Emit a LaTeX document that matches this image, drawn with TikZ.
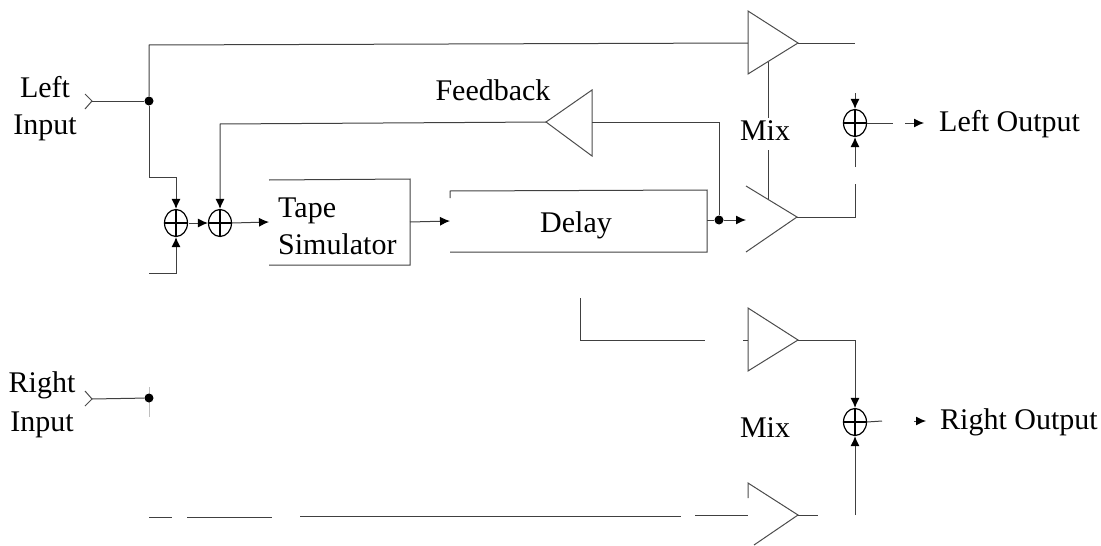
\documentclass[tikz,border=0pt]{standalone}
\usepackage{fontspec}
\setmainfont{Liberation Serif}
\usetikzlibrary{shapes.geometric,arrows.meta}
\tikzset{
  x=1pt,y=-1pt,
  wire/.style={line width=1pt,draw=black!75},
  faint/.style={line width=1pt,draw=black!25},
  amp/.style={line width=1pt,draw=black!70},
  tip/.style={-{Latex[length=10pt,width=9pt,black]}},
  sumnode/.style={ellipse,draw,line width=1.2pt,minimum width=23pt,minimum height=27pt,inner sep=0pt,
    path picture={\draw[line width=1.2pt] (path picture bounding box.north)--(path picture bounding box.south)
      (path picture bounding box.west)--(path picture bounding box.east);}},
  dotnode/.style={circle,fill=black,minimum size=9pt,inner sep=0pt},
  lbl/.style={font=\fontsize{30}{38}\selectfont,inner sep=0pt,anchor=base},
  lbll/.style={lbl,anchor=base west},
}
\begin{document}
\begin{tikzpicture}
\useasboundingbox (0,0) rectangle (1101,546);
% labels
\node[lbl] (tL1) at (45,97) {Left};
\node[lbl] (tL2) at (45,134) {Input};
\node[lbl] (tR1) at (42,392) {Right};
\node[lbl] (tR2) at (42,431) {Input};
\node[lbl] (tFb) at (493,100) {Feedback};
\node[lbl] (tMix1) at (765,140) {Mix};
\node[lbl] (tMix2) at (765,437) {Mix};
\node[lbll] (tLO) at (939,131) {Left Output};
\node[lbll] (tRO) at (940,429) {Right Output};
\node[lbll] (tTape) at (278,217) {Tape};
\node[lbll] (tSim) at (278,254) {Simulator};
\node[lbl] (tDelay) at (576,232) {Delay};
% faint traces under the right input junction
\draw[faint] (149,387)--(149,417);
% junctions and adders
\node[dotnode] (jL) at (149,101) {};
\node[dotnode] (jR) at (149,398) {};
\node[dotnode] (jD) at (719,220) {};
\node[sumnode] (s1) at (176,223) {};
\node[sumnode] (s2) at (220,223) {};
\node[sumnode] (s3) at (855,123) {};
\node[sumnode] (s4) at (855,422) {};
% free ends
\coordinate (inL) at (92,101);
\coordinate (inR) at (92,399);
% boxes: open lines as printed
\coordinate (tapeE) at (410,222);
\coordinate (delW) at (450,221);
\coordinate (delE) at (707,220);
\draw[wire] (269,180)--(410,179)--(410,265)--(269,265);
\draw[wire] (450,198)--(450,191)--(707,190)--(707,252)--(450,252);
% input chevrons
\draw[amp] (85,94)--(inL)--(85,109) (85,391)--(inR)--(85,406);
% amplifiers
\draw[amp] (748,74)--(748,11)--(798,43)--cycle;
\draw[amp] (592,156)--(592,90)--(546,122)--cycle;
\draw[amp] (746,186)--(797,217)--(746,252);
\draw[amp] (748,371)--(748,308)--(798,340)--cycle;
\draw[amp] (748,498)--(748,483)--(798,515)--(754,545);
% connectors
\draw[wire] (inL)--(jL);
\draw[wire] (jL)--(149,45)--(748,43);
\draw[wire,tip] (jL)--(149,177)--(176,177)--(s1.north);
\draw[wire,tip] (149,273)--(176,273)--(s1.south);
\draw[wire,tip] (s1)+(13,0)--(s2.west);
\draw[wire,tip] (546,122)--(220,124)--(s2.north);
\draw[wire,tip] (s2.east)--(269,222);
\draw[wire,tip] (tapeE)--(delW);
\draw[wire] (delE)--(jD);
\draw[wire,tip] (jD)--(746,220);
\draw[wire] (592,122)--(719,122)--(jD);
\draw[wire] (768,62)--(768,118) (768,150)--(768,199);
\draw[wire] (798,43)--(855,43);
\draw[wire,tip] (855,93)--(s3.north);
\draw[wire,tip] (855,167)--(s3.south);
\draw[wire] (855,184)--(855,217)--(797,217);
\draw[wire] (s3.east)--(893,123);
\draw[wire,tip] (905,123)--(924,123);
\draw[wire] (inR)--(jR);
\draw[wire] (149,517)--(172,517) (187,517)--(272,517);
\draw[wire] (300,516)--(681,516);
\draw[wire] (695,515)--(748,515);
\draw[wire] (580,298)--(580,340)--(705,340);
\draw[wire] (743,340)--(748,340);
\draw[wire,tip] (798,340)--(855,340)--(s4.north);
\draw[wire,tip] (855,515)--(s4.south);
\draw[wire] (798,515)--(818,515);
\draw[wire] (s4.east)--(882,421);
\draw[wire,tip] (914,421)--(926,421);
\end{tikzpicture}
\end{document}
